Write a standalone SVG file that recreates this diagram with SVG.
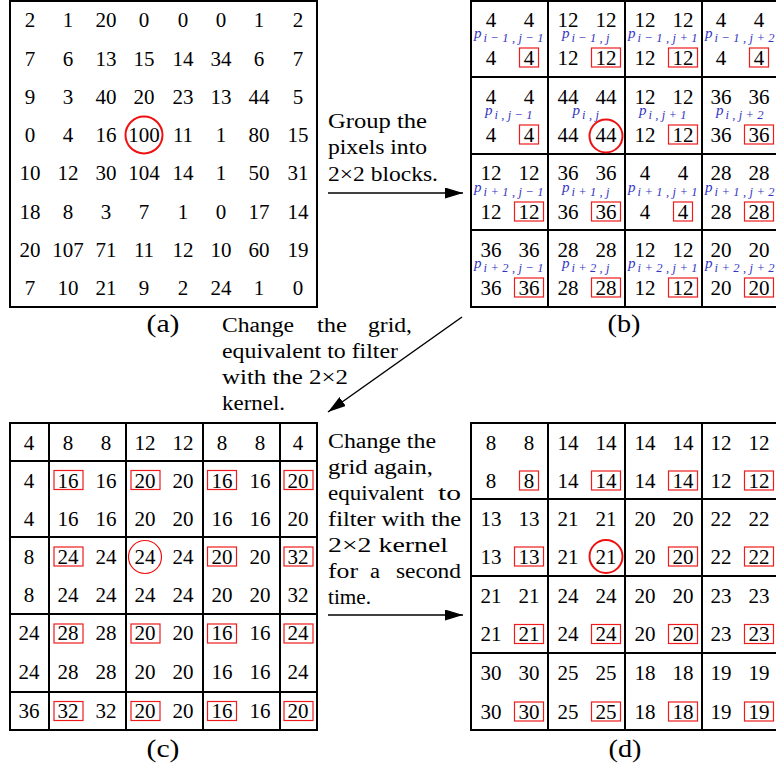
<svg xmlns="http://www.w3.org/2000/svg" width="776" height="769" viewBox="0 0 776 769">
<style>
text{font-family:"Liberation Serif","Times New Roman",serif;fill:#000}
.n{font-size:21px;text-anchor:middle}
.cap{font-size:20px}
.lbl{font-size:26px;text-anchor:middle}
.p{font-size:15px;font-style:italic;fill:#3434c4}
.s{font-size:12.5px;font-style:italic;fill:#3434c4}
.g{fill:none;stroke:#000;stroke-width:2}
.rb{fill:none;stroke:#ee1c1c;stroke-width:1.2}
.ci{fill:none;stroke:#ee1111;stroke-width:2}
.arr{stroke:#000;stroke-width:1.5;fill:none;marker-end:url(#ah)}
</style>
<defs>
<marker id="ah" markerUnits="userSpaceOnUse" markerWidth="18" markerHeight="11" refX="18" refY="5.5" orient="auto">
<path d="M0,0 L18,5.5 L0,11 z" fill="#000"/>
</marker>
</defs>
<rect width="776" height="769" fill="#fff"/>

<g id="panel-a">
<rect class="g" x="10" y="1" width="307" height="306"/>
<g class="n">
<text x="30" y="27">2</text><text x="68" y="27">1</text><text x="106" y="27">20</text><text x="144" y="27">0</text><text x="183" y="27">0</text><text x="221" y="27">0</text><text x="259" y="27">1</text><text x="298" y="27">2</text>
<text x="30" y="66">7</text><text x="68" y="66">6</text><text x="106" y="66">13</text><text x="144" y="66">15</text><text x="183" y="66">14</text><text x="221" y="66">34</text><text x="259" y="66">6</text><text x="298" y="66">7</text>
<text x="30" y="104">9</text><text x="68" y="104">3</text><text x="106" y="104">40</text><text x="144" y="104">20</text><text x="183" y="104">23</text><text x="221" y="104">13</text><text x="259" y="104">44</text><text x="298" y="104">5</text>
<text x="30" y="142">0</text><text x="68" y="142">4</text><text x="106" y="142">16</text><text x="144" y="142">100</text><text x="183" y="142">11</text><text x="221" y="142">1</text><text x="259" y="142">80</text><text x="298" y="142">15</text>
<text x="30" y="180">10</text><text x="68" y="180">12</text><text x="106" y="180">30</text><text x="144" y="180">104</text><text x="183" y="180">14</text><text x="221" y="180">1</text><text x="259" y="180">50</text><text x="298" y="180">31</text>
<text x="30" y="219">18</text><text x="68" y="219">8</text><text x="106" y="219">3</text><text x="144" y="219">7</text><text x="183" y="219">1</text><text x="221" y="219">0</text><text x="259" y="219">17</text><text x="298" y="219">14</text>
<text x="30" y="257">20</text><text x="68" y="257">107</text><text x="106" y="257">71</text><text x="144" y="257">11</text><text x="183" y="257">12</text><text x="221" y="257">10</text><text x="259" y="257">60</text><text x="298" y="257">19</text>
<text x="30" y="295">7</text><text x="68" y="295">10</text><text x="106" y="295">21</text><text x="144" y="295">9</text><text x="183" y="295">2</text><text x="221" y="295">24</text><text x="259" y="295">1</text><text x="298" y="295">0</text>
</g>
<circle class="ci" cx="144" cy="135" r="18.5"/>
<text class="lbl" x="163" y="332" textLength="33" lengthAdjust="spacingAndGlyphs">(a)</text>
</g>

<g id="panel-b">
<rect class="g" x="471" y="1" width="308" height="306"/>
<path class="g" d="M548,1V307M625,1V307M702,1V307M471,77H779M471,154H779M471,230H779"/>
<g class="n">
<text x="491" y="27">4</text><text x="529" y="27">4</text><text x="568" y="27">12</text><text x="606" y="27">12</text><text x="645" y="27">12</text><text x="683" y="27">12</text><text x="721" y="27">4</text><text x="759" y="27">4</text>
<text x="491" y="65">4</text><text x="529" y="65">4</text><text x="568" y="65">12</text><text x="606" y="65">12</text><text x="645" y="65">12</text><text x="683" y="65">12</text><text x="721" y="65">4</text><text x="759" y="65">4</text>
<text x="491" y="104">4</text><text x="529" y="104">4</text><text x="568" y="104">44</text><text x="606" y="104">44</text><text x="645" y="104">12</text><text x="683" y="104">12</text><text x="721" y="104">36</text><text x="759" y="104">36</text>
<text x="491" y="142">4</text><text x="529" y="142">4</text><text x="568" y="142">44</text><text x="606" y="142">44</text><text x="645" y="142">12</text><text x="683" y="142">12</text><text x="721" y="142">36</text><text x="759" y="142">36</text>
<text x="491" y="180">12</text><text x="529" y="180">12</text><text x="568" y="180">36</text><text x="606" y="180">36</text><text x="645" y="180">4</text><text x="683" y="180">4</text><text x="721" y="180">28</text><text x="759" y="180">28</text>
<text x="491" y="219">12</text><text x="529" y="219">12</text><text x="568" y="219">36</text><text x="606" y="219">36</text><text x="645" y="219">4</text><text x="683" y="219">4</text><text x="721" y="219">28</text><text x="759" y="219">28</text>
<text x="491" y="257">36</text><text x="529" y="257">36</text><text x="568" y="257">28</text><text x="606" y="257">28</text><text x="645" y="257">12</text><text x="683" y="257">12</text><text x="721" y="257">20</text><text x="759" y="257">20</text>
<text x="491" y="295">36</text><text x="529" y="295">36</text><text x="568" y="295">28</text><text x="606" y="295">28</text><text x="645" y="295">12</text><text x="683" y="295">12</text><text x="721" y="295">20</text><text x="759" y="295">20</text>
</g>
<g>
<text class="p" x="474" y="38">p</text><text class="s" x="483.5" y="42" textLength="60" lengthAdjust="spacing">i−1,j−1</text>
<text class="p" x="562" y="38">p</text><text class="s" x="571.5" y="42" textLength="38" lengthAdjust="spacing">i−1,j</text>
<text class="p" x="628" y="38">p</text><text class="s" x="637.5" y="42" textLength="60" lengthAdjust="spacing">i−1,j+1</text>
<text class="p" x="705" y="38">p</text><text class="s" x="714.5" y="42" textLength="60" lengthAdjust="spacing">i−1,j+2</text>

<text class="p" x="485" y="115">p</text><text class="s" x="494.5" y="119" textLength="38" lengthAdjust="spacing">i,j−1</text>
<text class="p" x="572.5" y="115">p</text><text class="s" x="582" y="119" textLength="17" lengthAdjust="spacing">i,j</text>
<text class="p" x="639" y="115">p</text><text class="s" x="648.5" y="119" textLength="38" lengthAdjust="spacing">i,j+1</text>
<text class="p" x="716" y="115">p</text><text class="s" x="725.5" y="119" textLength="38" lengthAdjust="spacing">i,j+2</text>

<text class="p" x="474" y="192">p</text><text class="s" x="483.5" y="196" textLength="60" lengthAdjust="spacing">i+1,j−1</text>
<text class="p" x="562" y="192">p</text><text class="s" x="571.5" y="196" textLength="38" lengthAdjust="spacing">i+1,j</text>
<text class="p" x="628" y="192">p</text><text class="s" x="637.5" y="196" textLength="60" lengthAdjust="spacing">i+1,j+1</text>
<text class="p" x="705" y="192">p</text><text class="s" x="714.5" y="196" textLength="60" lengthAdjust="spacing">i+1,j+2</text>

<text class="p" x="474" y="268">p</text><text class="s" x="483.5" y="272" textLength="60" lengthAdjust="spacing">i+2,j−1</text>
<text class="p" x="562" y="268">p</text><text class="s" x="571.5" y="272" textLength="38" lengthAdjust="spacing">i+2,j</text>
<text class="p" x="628" y="268">p</text><text class="s" x="637.5" y="272" textLength="60" lengthAdjust="spacing">i+2,j+1</text>
<text class="p" x="705" y="268">p</text><text class="s" x="714.5" y="272" textLength="60" lengthAdjust="spacing">i+2,j+2</text>
</g>
<g>
<rect class="rb" x="519.5" y="48" width="19" height="19"/>
<rect class="rb" x="591.5" y="48" width="29" height="19"/>
<rect class="rb" x="668.5" y="48" width="29" height="19"/>
<rect class="rb" x="749.5" y="48" width="19" height="19"/>
<rect class="rb" x="519.5" y="125" width="19" height="19"/>
<rect class="rb" x="668.5" y="125" width="29" height="19"/>
<rect class="rb" x="744.5" y="125" width="29" height="19"/>
<rect class="rb" x="514.5" y="202" width="29" height="19"/>
<rect class="rb" x="591.5" y="202" width="29" height="19"/>
<rect class="rb" x="673.5" y="202" width="19" height="19"/>
<rect class="rb" x="744.5" y="202" width="29" height="19"/>
<rect class="rb" x="514.5" y="278" width="29" height="19"/>
<rect class="rb" x="591.5" y="278" width="29" height="19"/>
<rect class="rb" x="668.5" y="278" width="29" height="19"/>
<rect class="rb" x="744.5" y="278" width="29" height="19"/>
</g>
<circle class="ci" cx="606" cy="136" r="16.5"/>
<text class="lbl" x="624" y="332" textLength="33" lengthAdjust="spacingAndGlyphs">(b)</text>
</g>

<g id="panel-c">
<rect class="g" x="10" y="423" width="307" height="307"/>
<path class="g" d="M49,423V730M126,423V730M203,423V730M280,423V730M10,461H317M10,537H317M10,614H317M10,692H317"/>
<g class="n">
<text x="29" y="450">4</text><text x="68" y="450">8</text><text x="106" y="450">8</text><text x="145" y="450">12</text><text x="183" y="450">12</text><text x="222" y="450">8</text><text x="260" y="450">8</text><text x="298" y="450">4</text>
<text x="29" y="488">4</text><text x="68" y="488">16</text><text x="106" y="488">16</text><text x="145" y="488">20</text><text x="183" y="488">20</text><text x="222" y="488">16</text><text x="260" y="488">16</text><text x="298" y="488">20</text>
<text x="29" y="526">4</text><text x="68" y="526">16</text><text x="106" y="526">16</text><text x="145" y="526">20</text><text x="183" y="526">20</text><text x="222" y="526">16</text><text x="260" y="526">16</text><text x="298" y="526">20</text>
<text x="29" y="564">8</text><text x="68" y="564">24</text><text x="106" y="564">24</text><text x="145" y="564">24</text><text x="183" y="564">24</text><text x="222" y="564">20</text><text x="260" y="564">20</text><text x="298" y="564">32</text>
<text x="29" y="602">8</text><text x="68" y="602">24</text><text x="106" y="602">24</text><text x="145" y="602">24</text><text x="183" y="602">24</text><text x="222" y="602">20</text><text x="260" y="602">20</text><text x="298" y="602">32</text>
<text x="29" y="640">24</text><text x="68" y="640">28</text><text x="106" y="640">28</text><text x="145" y="640">20</text><text x="183" y="640">20</text><text x="222" y="640">16</text><text x="260" y="640">16</text><text x="298" y="640">24</text>
<text x="29" y="679">24</text><text x="68" y="679">28</text><text x="106" y="679">28</text><text x="145" y="679">20</text><text x="183" y="679">20</text><text x="222" y="679">16</text><text x="260" y="679">16</text><text x="298" y="679">24</text>
<text x="29" y="718">36</text><text x="68" y="718">32</text><text x="106" y="718">32</text><text x="145" y="718">20</text><text x="183" y="718">20</text><text x="222" y="718">16</text><text x="260" y="718">16</text><text x="298" y="718">20</text>
</g>
<g>
<rect class="rb" x="54" y="470.5" width="29" height="19"/>
<rect class="rb" x="131" y="470.5" width="29" height="19"/>
<rect class="rb" x="207.5" y="470.5" width="29" height="19"/>
<rect class="rb" x="284" y="470.5" width="29" height="19"/>
<rect class="rb" x="54" y="547" width="29" height="19"/>
<rect class="rb" x="207.5" y="547" width="29" height="19"/>
<rect class="rb" x="284" y="547" width="29" height="19"/>
<rect class="rb" x="54" y="624" width="29" height="19"/>
<rect class="rb" x="131" y="624" width="29" height="19"/>
<rect class="rb" x="207.5" y="624" width="29" height="19"/>
<rect class="rb" x="284" y="624" width="29" height="19"/>
<rect class="rb" x="54" y="701.5" width="29" height="19"/>
<rect class="rb" x="131" y="701.5" width="29" height="19"/>
<rect class="rb" x="207.5" y="701.5" width="29" height="19"/>
<rect class="rb" x="284" y="701.5" width="29" height="19"/>
</g>
<circle cx="145" cy="557" r="16.5" fill="none" stroke="#ee1111" stroke-width="1.2"/>
<text class="lbl" x="163" y="757" textLength="33" lengthAdjust="spacingAndGlyphs">(c)</text>
</g>

<g id="panel-d">
<rect class="g" x="471" y="423" width="308" height="307"/>
<path class="g" d="M548,423V730M625,423V730M702,423V730M471,499H779M471,576H779M471,653H779"/>
<g class="n">
<text x="491" y="450">8</text><text x="529" y="450">8</text><text x="568" y="450">14</text><text x="606" y="450">14</text><text x="645" y="450">14</text><text x="683" y="450">14</text><text x="721" y="450">12</text><text x="759" y="450">12</text>
<text x="491" y="488">8</text><text x="529" y="488">8</text><text x="568" y="488">14</text><text x="606" y="488">14</text><text x="645" y="488">14</text><text x="683" y="488">14</text><text x="721" y="488">12</text><text x="759" y="488">12</text>
<text x="491" y="526">13</text><text x="529" y="526">13</text><text x="568" y="526">21</text><text x="606" y="526">21</text><text x="645" y="526">20</text><text x="683" y="526">20</text><text x="721" y="526">22</text><text x="759" y="526">22</text>
<text x="491" y="564">13</text><text x="529" y="564">13</text><text x="568" y="564">21</text><text x="606" y="564">21</text><text x="645" y="564">20</text><text x="683" y="564">20</text><text x="721" y="564">22</text><text x="759" y="564">22</text>
<text x="491" y="603">21</text><text x="529" y="603">21</text><text x="568" y="603">24</text><text x="606" y="603">24</text><text x="645" y="603">20</text><text x="683" y="603">20</text><text x="721" y="603">23</text><text x="759" y="603">23</text>
<text x="491" y="641">21</text><text x="529" y="641">21</text><text x="568" y="641">24</text><text x="606" y="641">24</text><text x="645" y="641">20</text><text x="683" y="641">20</text><text x="721" y="641">23</text><text x="759" y="641">23</text>
<text x="491" y="680">30</text><text x="529" y="680">30</text><text x="568" y="680">25</text><text x="606" y="680">25</text><text x="645" y="680">18</text><text x="683" y="680">18</text><text x="721" y="680">19</text><text x="759" y="680">19</text>
<text x="491" y="719">30</text><text x="529" y="719">30</text><text x="568" y="719">25</text><text x="606" y="719">25</text><text x="645" y="719">18</text><text x="683" y="719">18</text><text x="721" y="719">19</text><text x="759" y="719">19</text>
</g>
<g>
<rect class="rb" x="519.5" y="471" width="19" height="19"/>
<rect class="rb" x="591.5" y="471" width="29" height="19"/>
<rect class="rb" x="668.5" y="471" width="29" height="19"/>
<rect class="rb" x="744.5" y="471" width="29" height="19"/>
<rect class="rb" x="514.5" y="547" width="29" height="19"/>
<rect class="rb" x="668.5" y="547" width="29" height="19"/>
<rect class="rb" x="744.5" y="547" width="29" height="19"/>
<rect class="rb" x="514.5" y="624.5" width="29" height="19"/>
<rect class="rb" x="591.5" y="624.5" width="29" height="19"/>
<rect class="rb" x="668.5" y="624.5" width="29" height="19"/>
<rect class="rb" x="744.5" y="624.5" width="29" height="19"/>
<rect class="rb" x="514.5" y="702" width="29" height="19"/>
<rect class="rb" x="591.5" y="702" width="29" height="19"/>
<rect class="rb" x="668.5" y="702" width="29" height="19"/>
<rect class="rb" x="744.5" y="702" width="29" height="19"/>
</g>
<circle class="ci" cx="606" cy="556.5" r="16.5"/>
<text class="lbl" x="625" y="757" textLength="33" lengthAdjust="spacingAndGlyphs">(d)</text>
</g>

<g id="connectors">
<path class="arr" d="M328,193 H463"/>
<path class="arr" d="M462,317 L328,412"/>
<path class="arr" d="M328,615 H463"/>
</g>

<g id="connector-labels" class="cap">
<text class="cap" x="328" y="128" textLength="99" lengthAdjust="spacingAndGlyphs">Group the</text>
<text class="cap" x="328" y="154" textLength="99" lengthAdjust="spacingAndGlyphs">pixels into</text>
<text class="cap" x="328" y="181" textLength="110" lengthAdjust="spacingAndGlyphs">2×2 blocks.</text>

<text class="cap" x="222" y="332" textLength="72" lengthAdjust="spacingAndGlyphs">Change</text>
<text class="cap" x="317" y="332" textLength="30" lengthAdjust="spacingAndGlyphs">the</text>
<text class="cap" x="368" y="332" textLength="44" lengthAdjust="spacingAndGlyphs">grid,</text>
<text class="cap" x="222" y="358" textLength="176" lengthAdjust="spacingAndGlyphs">equivalent to filter</text>
<text class="cap" x="222" y="384" textLength="126" lengthAdjust="spacingAndGlyphs">with the 2×2</text>
<text class="cap" x="222" y="410" textLength="63" lengthAdjust="spacingAndGlyphs">kernel.</text>

<text class="cap" x="328" y="448" textLength="108" lengthAdjust="spacingAndGlyphs">Change the</text>
<text class="cap" x="328" y="474" textLength="105" lengthAdjust="spacingAndGlyphs">grid again,</text>
<text class="cap" x="328" y="500" textLength="96" lengthAdjust="spacingAndGlyphs">equivalent</text>
<text class="cap" x="438" y="500" textLength="23" lengthAdjust="spacingAndGlyphs">to</text>
<text class="cap" x="328" y="526" textLength="133" lengthAdjust="spacingAndGlyphs">filter with the</text>
<text class="cap" x="328" y="552" textLength="120" lengthAdjust="spacingAndGlyphs">2×2 kernel</text>
<text class="cap" x="328" y="578" textLength="30" lengthAdjust="spacingAndGlyphs">for</text>
<text class="cap" x="370" y="578" textLength="10" lengthAdjust="spacingAndGlyphs">a</text>
<text class="cap" x="396" y="578" textLength="65" lengthAdjust="spacingAndGlyphs">second</text>
<text class="cap" x="328" y="604" textLength="43" lengthAdjust="spacingAndGlyphs">time.</text>
</g>
</svg>
